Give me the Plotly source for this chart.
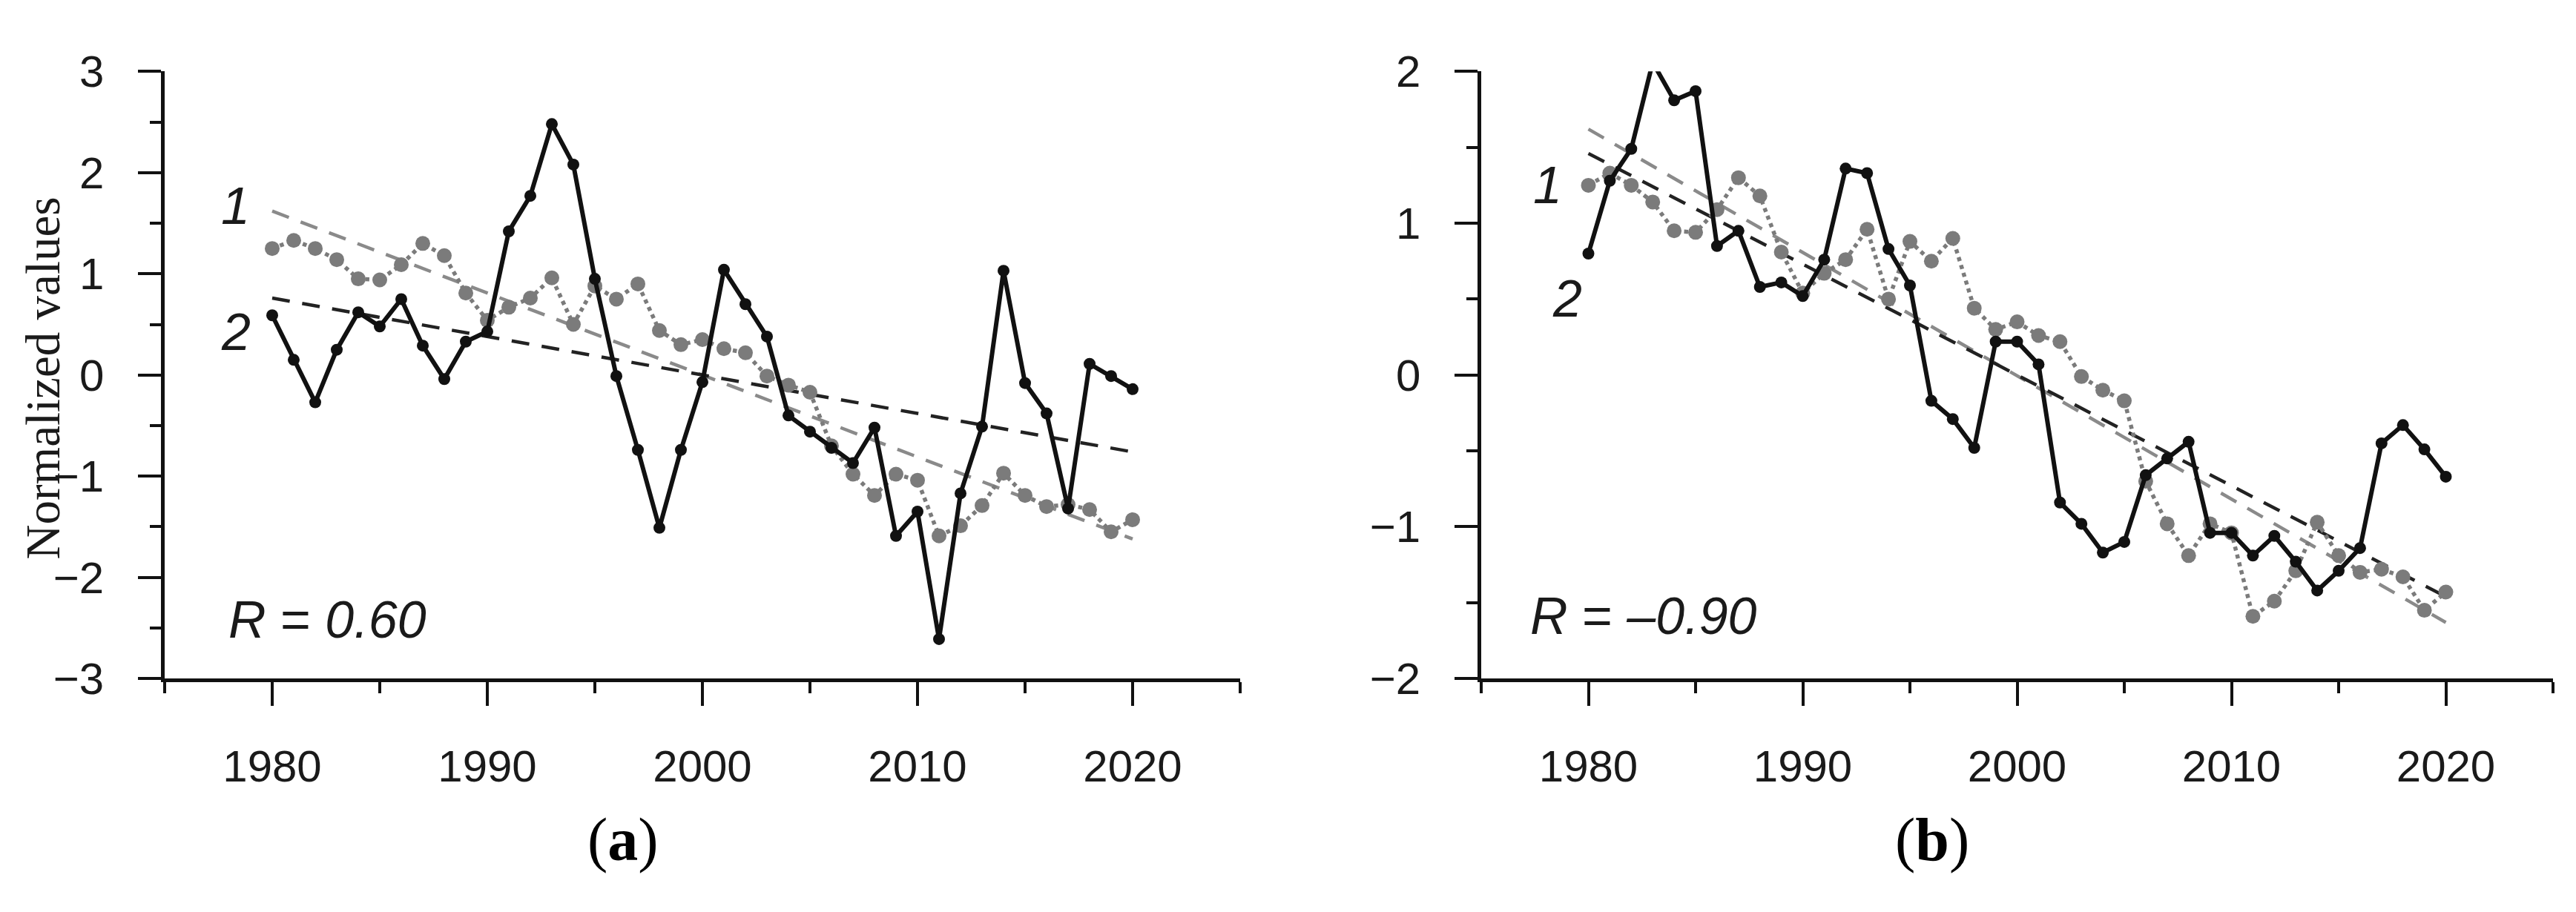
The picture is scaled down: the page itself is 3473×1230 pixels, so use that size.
import plotly.graph_objects as go

# ---------------- data ----------------
years = list(range(1980, 2021))

# series 1 (grey dotted, same in both panels)
series1 = [1.25, 1.33, 1.25, 1.14, 0.95, 0.94, 1.09, 1.30, 1.18, 0.81,
           0.54, 0.67, 0.76, 0.96, 0.50, 0.88, 0.75, 0.90, 0.44, 0.30,
           0.35, 0.26, 0.22, -0.01, -0.10, -0.17, -0.70, -0.98, -1.19, -0.98,
           -1.04, -1.59, -1.49, -1.29, -0.97, -1.19, -1.30, -1.28, -1.33, -1.55,
           -1.43]

# series 2, panel (a) (black solid)
series2_a = [0.59, 0.15, -0.27, 0.25, 0.62, 0.48, 0.75, 0.29, -0.04, 0.33,
             0.43, 1.42, 1.77, 2.48, 2.08, 0.95, -0.01, -0.74, -1.51, -0.74,
             -0.07, 1.04, 0.70, 0.38, -0.40, -0.56, -0.72, -0.87, -0.52, -1.59,
             -1.35, -2.61, -1.17, -0.51, 1.03, -0.08, -0.38, -1.32, 0.11, -0.01,
             -0.14]

# series 2, panel (b) (black solid)
series2_b = [0.80, 1.28, 1.49, 2.06, 1.81, 1.87, 0.85, 0.95, 0.58, 0.61,
             0.52, 0.76, 1.36, 1.33, 0.83, 0.59, -0.17, -0.29, -0.48, 0.22,
             0.22, 0.07, -0.84, -0.98, -1.17, -1.10, -0.66, -0.55, -0.44, -1.04,
             -1.04, -1.19, -1.06, -1.23, -1.42, -1.29, -1.14, -0.45, -0.33, -0.49,
             -0.67]

# linear trends (values at first and last year)
trend_years = [1980, 2020]
trend1_a = [1.62, -1.62]
trend2_a = [0.76, -0.76]
trend1_b = [1.62, -1.63]
trend2_b = [1.46, -1.46]

r_text_a = "<i>R</i> = <i>0.60</i>"
r_text_b = "<i>R</i> = <i>–0.90</i>"

yticks_a = [-3, -2, -1, 0, 1, 2, 3]
yticks_b = [-2, -1, 0, 1, 2]
xticks = [1980, 1990, 2000, 2010, 2020]

# ---------------- styling ----------------
W, H = 3473, 1230
GREY = "#7b7b7b"
BLACK = "#111111"
TICKFONT = dict(family="Liberation Sans, Arial", size=60, color="#1a1a1a")


def px_x(p):
    return p / W


def px_y(p):
    return 1 - p / H


fig = go.Figure()

panels = [
    ("x", "y", series2_a, trend1_a, trend2_a),
    ("x2", "y2", series2_b, trend1_b, trend2_b),
]
for xa, ya, s2, t1, t2 in panels:
    fig.add_trace(go.Scatter(x=trend_years, y=t1, mode="lines", xaxis=xa, yaxis=ya,
                             line=dict(color="#8a8a8a", width=4.5, dash="24px,17px"),
                             showlegend=False, hoverinfo="skip", cliponaxis=False))
    fig.add_trace(go.Scatter(x=trend_years, y=t2, mode="lines", xaxis=xa, yaxis=ya,
                             line=dict(color="#222222", width=4.5, dash="24px,17px"),
                             showlegend=False, hoverinfo="skip", cliponaxis=False))
    fig.add_trace(go.Scatter(x=years, y=series1, mode="lines+markers", xaxis=xa, yaxis=ya,
                             line=dict(color=GREY, width=5.5, dash="dot"),
                             marker=dict(color=GREY, size=20),
                             showlegend=False, cliponaxis=False))
    fig.add_trace(go.Scatter(x=years, y=s2, mode="lines+markers", xaxis=xa, yaxis=ya,
                             line=dict(color=BLACK, width=6),
                             marker=dict(color=BLACK, size=16),
                             showlegend=False, cliponaxis=False))

common_x = dict(range=[1975, 2025], tickvals=xticks, ticks="outside", ticklen=32,
                tickwidth=4, tickcolor=BLACK, showline=True, linecolor=BLACK,
                linewidth=4.5, showgrid=False, zeroline=False, tickfont=TICKFONT,
                ticklabelstandoff=30,
                minor=dict(tickvals=[1975, 1985, 1995, 2005, 2015, 2025], ticks="outside",
                           ticklen=15, tickwidth=4, tickcolor=BLACK, showgrid=False))

common_y = dict(ticks="outside", ticklen=31, tickwidth=4, tickcolor=BLACK,
                showline=True, linecolor=BLACK, linewidth=4.5, showgrid=False,
                zeroline=False, tickfont=TICKFONT, ticklabelstandoff=34)

ydom = [px_y(933), px_y(67)]

fig.update_layout(
    width=W, height=H,
    margin=dict(l=0, r=0, t=0, b=0),
    paper_bgcolor="white", plot_bgcolor="white",
    xaxis=dict(domain=[px_x(222), px_x(1672)], anchor="y", **common_x),
    xaxis2=dict(domain=[px_x(1997), px_x(3442)], anchor="y2", **common_x),
    yaxis=dict(domain=ydom, anchor="x", range=[-3, 3], tickvals=yticks_a,
               minor=dict(tickvals=[-2.5, -1.5, -0.5, 0.5, 1.5, 2.5], ticks="outside",
                          ticklen=15, tickwidth=4, tickcolor=BLACK, showgrid=False),
               **common_y),
    yaxis2=dict(domain=ydom, anchor="x2", range=[-2, 2], tickvals=yticks_b,
                minor=dict(tickvals=[-1.5, -0.5, 0.5, 1.5], ticks="outside",
                           ticklen=15, tickwidth=4, tickcolor=BLACK, showgrid=False),
                **common_y),
)

LABFONT = dict(family="Liberation Sans, Arial", size=70, color="#1a1a1a")
SERIF = "Liberation Serif, Times New Roman"
annotations = [
    dict(x=1978.3, y=1.67, xref="x", yref="y", text="<i>1</i>", showarrow=False, font=LABFONT),
    dict(x=1978.3, y=0.42, xref="x", yref="y", text="<i>2</i>", showarrow=False, font=LABFONT),
    dict(x=1977.9, y=-2.42, xref="x", yref="y", text=r_text_a, showarrow=False,
         font=LABFONT, xanchor="left", yanchor="middle"),
    dict(x=1978.1, y=1.25, xref="x2", yref="y2", text="<i>1</i>", showarrow=False, font=LABFONT),
    dict(x=1979.0, y=0.50, xref="x2", yref="y2", text="<i>2</i>", showarrow=False, font=LABFONT),
    dict(x=1977.2, y=-1.59, xref="x2", yref="y2", text=r_text_b, showarrow=False,
         font=LABFONT, xanchor="left", yanchor="middle"),
    dict(x=px_x(58), y=px_y(505), xref="paper", yref="paper", text="Normalized values",
         textangle=-90, showarrow=False, xanchor="center", yanchor="middle",
         font=dict(family=SERIF, size=65, color="#1a1a1a")),
    dict(x=px_x(840), y=px_y(1163), xref="paper", yref="paper", text="(<b>a</b>)",
         showarrow=False, xanchor="center", yanchor="middle",
         font=dict(family=SERIF, size=82, color="#000000")),
    dict(x=px_x(2605), y=px_y(1163), xref="paper", yref="paper", text="(<b>b</b>)",
         showarrow=False, xanchor="center", yanchor="middle",
         font=dict(family=SERIF, size=82, color="#000000")),
]
fig.update_layout(annotations=annotations)

fig.write_html("out.html", config={"displayModeBar": False},
               post_script="document.body.style.margin='0';")
